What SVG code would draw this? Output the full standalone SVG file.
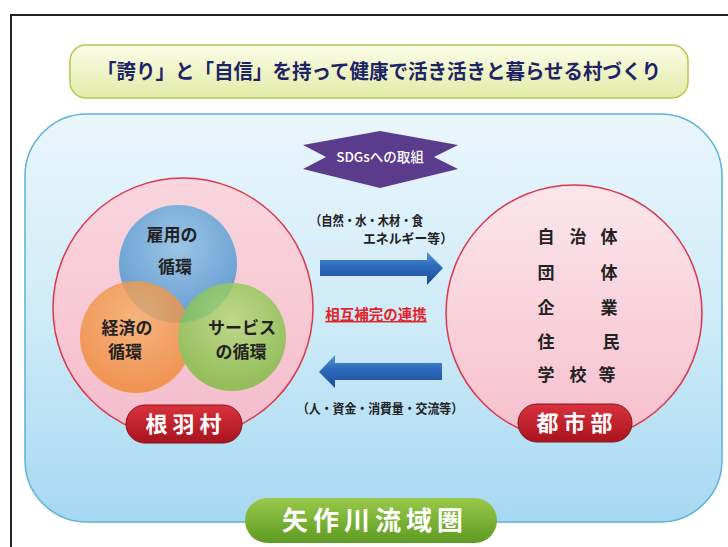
<svg xmlns="http://www.w3.org/2000/svg" width="728" height="547" viewBox="0 0 728 547">
<defs>
<style>
text{font-family:"Noto Sans CJK JP","Noto Sans",sans-serif;}
.dark{fill:#222;font-weight:bold;}
.lab{fill:#fff;font-weight:bold;}
.pinkc{stroke:#d8394f;stroke-width:1.5;}
</style>
<linearGradient id="gTitle" x1="0" y1="0" x2="0" y2="1">
<stop offset="0" stop-color="#fbfde8"/><stop offset="1" stop-color="#e2eba6"/>
</linearGradient>
<linearGradient id="gBg" x1="0" y1="0" x2="0" y2="1">
<stop offset="0" stop-color="#eaf6fb"/><stop offset="0.5" stop-color="#cfebf8"/><stop offset="1" stop-color="#a6d8f1"/>
</linearGradient>
<linearGradient id="gPink" x1="0" y1="0" x2="0" y2="1">
<stop offset="0" stop-color="#fbe6ec"/><stop offset="1" stop-color="#f6bfcc"/>
</linearGradient>
<linearGradient id="gPinkL" x1="0" y1="0" x2="0" y2="1">
<stop offset="0" stop-color="#f9d6df"/><stop offset="1" stop-color="#f5bccb"/>
</linearGradient>
<radialGradient id="gBlue" cx="0.5" cy="0.35" r="0.6">
<stop offset="0" stop-color="#8cc3e8"/><stop offset="1" stop-color="#4f98d2"/>
</radialGradient>
<radialGradient id="gOrange" cx="0.5" cy="0.35" r="0.6">
<stop offset="0" stop-color="#f7b06a"/><stop offset="1" stop-color="#ef8a36"/>
</radialGradient>
<radialGradient id="gGreen" cx="0.5" cy="0.35" r="0.6">
<stop offset="0" stop-color="#b2dc7a"/><stop offset="1" stop-color="#7dbd3f"/>
</radialGradient>
<linearGradient id="gRed" x1="0" y1="0" x2="0" y2="1">
<stop offset="0" stop-color="#d8323d"/><stop offset="1" stop-color="#a8141f"/>
</linearGradient>
<linearGradient id="gGreenL" x1="0" y1="0" x2="0" y2="1">
<stop offset="0" stop-color="#98c94a"/><stop offset="1" stop-color="#5e9a22"/>
</linearGradient>
<linearGradient id="gArrow" x1="0" y1="0" x2="0" y2="1">
<stop offset="0" stop-color="#5a94d8"/><stop offset="0.4" stop-color="#2e6cbf"/><stop offset="1" stop-color="#1a4b94"/>
</linearGradient>
</defs>

<!-- frame -->
<path d="M11,547 V15 H728" fill="none" stroke="#222" stroke-width="2"/>

<g id="title">
<rect x="70" y="45" width="618" height="53" rx="16" fill="url(#gTitle)" stroke="#b4c64c" stroke-width="1.5"/>
<text x="97" y="79" font-size="20.5" font-weight="bold" fill="#1d2466" textLength="564" lengthAdjust="spacingAndGlyphs">「誇り」と「自信」を持って健康で活き活きと暮らせる村づくり</text>
</g>

<g id="region">
<rect x="25" y="114" width="697" height="408" rx="62" fill="url(#gBg)" stroke="#5bb3d8" stroke-width="1.5"/>
</g>

<g id="sdgs">
<polygon points="303,145 380,131 458,145 434,157 458,169 380,188 303,169 326,157" fill="#5b3b8c"/>
<text x="380" y="162" font-size="13.5" font-weight="500" fill="#fff" text-anchor="middle">SDGsへの取組</text>
</g>

<g id="village">
<circle cx="183" cy="308" r="130" fill="url(#gPinkL)" class="pinkc"/>
<g opacity="0.85">
<circle cx="178" cy="264" r="59" fill="url(#gBlue)"/>
</g>
<g opacity="0.8">
<circle cx="136" cy="337" r="56" fill="url(#gOrange)"/>
<circle cx="232" cy="337" r="54" fill="url(#gGreen)"/>
</g>
<text x="172" y="241" font-size="17" text-anchor="middle" class="dark">雇用の</text>
<text x="175" y="273" font-size="17" text-anchor="middle" class="dark">循環</text>
<text x="127" y="334" font-size="17" text-anchor="middle" class="dark">経済の</text>
<text x="125" y="358" font-size="17" text-anchor="middle" class="dark">循環</text>
<text x="242" y="334" font-size="17" text-anchor="middle" class="dark">サービス</text>
<text x="241" y="358" font-size="17" text-anchor="middle" class="dark">の循環</text>
<rect x="126" y="405" width="116" height="38" rx="19" fill="url(#gRed)" stroke="#8a1018" stroke-width="1"/>
<text x="186" y="432" font-size="22" text-anchor="middle" letter-spacing="5" class="lab">根羽村</text>
</g>

<g id="city">
<circle cx="574" cy="313" r="128" fill="url(#gPink)" class="pinkc"/>
<g font-size="17" class="dark" text-anchor="middle">
<text x="546" y="243">自</text><text x="578" y="243">治</text><text x="609" y="243">体</text>
<text x="546" y="279">団</text><text x="609" y="279">体</text>
<text x="546" y="314">企</text><text x="609" y="314">業</text>
<text x="546" y="348">住</text><text x="611" y="348">民</text>
<text x="546" y="381">学</text><text x="578" y="381">校</text><text x="607" y="381">等</text>
</g>
<rect x="518" y="404" width="114" height="38" rx="19" fill="url(#gRed)" stroke="#8a1018" stroke-width="1"/>
<text x="577" y="431" font-size="22" text-anchor="middle" letter-spacing="5" class="lab">都市部</text>
</g>

<g id="connectors">
<polygon points="320,260 427,260 427,252 443,268 427,285 427,276 320,276" fill="url(#gArrow)"/>
<polygon points="442,363 335,363 335,355 319,372 335,388 335,380 442,380" fill="url(#gArrow)"/>
<text x="310" y="225" font-size="13" class="dark" textLength="113" lengthAdjust="spacingAndGlyphs">（自然・水・木材・食</text>
<text x="363" y="243" font-size="13" class="dark" textLength="90" lengthAdjust="spacingAndGlyphs">エネルギー等）</text>
<text x="376" y="320" font-size="14.5" font-weight="bold" fill="#e0242a" text-anchor="middle" text-decoration="underline">相互補完の連携</text>
<text x="297" y="413" font-size="13" class="dark" textLength="166" lengthAdjust="spacingAndGlyphs">（人・資金・消費量・交流等）</text>
</g>

<g id="basin">
<rect x="245" y="498" width="252" height="45" rx="22.5" fill="url(#gGreenL)"/>
<text x="375" y="530" font-size="26" text-anchor="middle" letter-spacing="5" class="lab">矢作川流域圏</text>
</g>
</svg>
